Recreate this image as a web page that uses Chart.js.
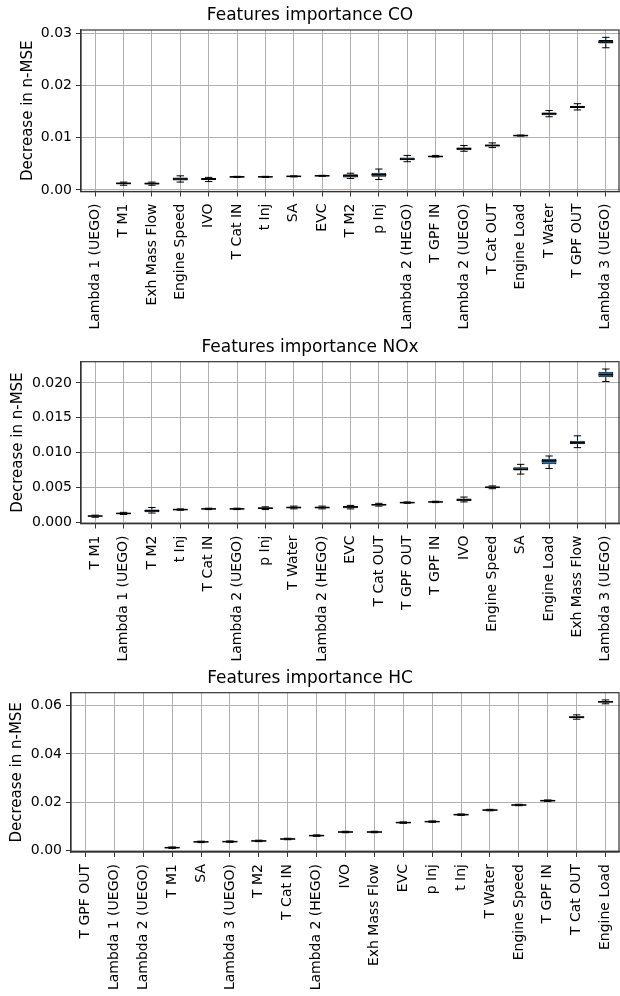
<!DOCTYPE html>
<html>
<head>
<meta charset="utf-8">
<script src="https://cdn.jsdelivr.net/npm/chart.js@4.4.1/dist/chart.umd.min.js"></script>
<style>
body { margin: 0; background: #fff; }
.panel { position: absolute; left: 0; width: 620px; height: 332px; }
</style>
</head>
<body>
<div class="panel" style="top:0px"><canvas id="coChart" width="620" height="332"></canvas></div>
<div class="panel" style="top:332px"><canvas id="noxChart" width="620" height="332"></canvas></div>
<div class="panel" style="top:664px"><canvas id="hcChart" width="620" height="332"></canvas></div>
<script>
// CO
const coLabels = ['Lambda 1 (UEGO)', 'T M1', 'Exh Mass Flow', 'Engine Speed', 'IVO', 'T Cat IN', 't Inj', 'SA', 'EVC', 'T M2', 'p Inj', 'Lambda 2 (HEGO)', 'T GPF IN', 'Lambda 2 (UEGO)', 'T Cat OUT', 'Engine Load', 'T Water', 'T GPF OUT', 'Lambda 3 (UEGO)'];
const coLow  = [null, 0.0009, 0.0009, 0.0015, 0.0016, 0.0024, 0.0024, 0.0025, 0.0026, 0.0022, 0.0020, 0.0054, 0.0063, 0.0074, 0.0081, 0.0103, 0.0140, 0.0153, 0.0272];
const coQ1   = [null, 0.0011, 0.0011, 0.0018, 0.0019, 0.0024, 0.00245, 0.0025, 0.0026, 0.0024, 0.0025, 0.0057, 0.0063, 0.0076, 0.0083, 0.0103, 0.0143, 0.0157, 0.0280];
const coMed  = [null, 0.00125, 0.0012, 0.0021, 0.0021, 0.0025, 0.0025, 0.0026, 0.0027, 0.0027, 0.0029, 0.0059, 0.0064, 0.0079, 0.0085, 0.0104, 0.0146, 0.0159, 0.0283];
const coQ3   = [null, 0.0014, 0.0014, 0.0024, 0.0023, 0.0026, 0.00255, 0.0027, 0.0028, 0.0030, 0.0033, 0.0062, 0.0065, 0.0081, 0.0087, 0.0105, 0.0148, 0.0161, 0.0287];
const coHigh = [null, 0.0015, 0.0015, 0.0027, 0.0024, 0.0026, 0.0026, 0.0027, 0.0028, 0.0032, 0.0040, 0.0066, 0.0066, 0.0085, 0.0090, 0.0105, 0.0152, 0.0165, 0.0292];

// NOx
const noxLabels = ['T M1', 'Lambda 1 (UEGO)', 'T M2', 't Inj', 'T Cat IN', 'Lambda 2 (UEGO)', 'p Inj', 'T Water', 'Lambda 2 (HEGO)', 'EVC', 'T Cat OUT', 'T GPF OUT', 'T GPF IN', 'IVO', 'Engine Speed', 'SA', 'Engine Load', 'Exh Mass Flow', 'Lambda 3 (UEGO)'];
const noxLow  = [0.0007, 0.0011, 0.0013, 0.0017, 0.0018, 0.0018, 0.0018, 0.0019, 0.0019, 0.0019, 0.0023, 0.0027, 0.0028, 0.0029, 0.0048, 0.0069, 0.0077, 0.0107, 0.0202];
const noxQ1   = [0.0008, 0.0012, 0.0014, 0.00175, 0.00185, 0.00185, 0.0019, 0.0020, 0.0020, 0.0020, 0.0024, 0.00275, 0.00285, 0.0030, 0.0049, 0.0074, 0.0083, 0.0112, 0.0208];
const noxMed  = [0.00087, 0.00125, 0.00163, 0.0018, 0.0019, 0.0019, 0.0020, 0.0021, 0.0021, 0.0022, 0.0025, 0.0028, 0.0029, 0.0032, 0.0050, 0.0076, 0.0088, 0.0114, 0.0212];
const noxQ3   = [0.00095, 0.0013, 0.0018, 0.00185, 0.00195, 0.00195, 0.0021, 0.0022, 0.0022, 0.0023, 0.0026, 0.00285, 0.00295, 0.0034, 0.0051, 0.0079, 0.0091, 0.0117, 0.0216];
const noxHigh = [0.0010, 0.0014, 0.0021, 0.0019, 0.0020, 0.0020, 0.0022, 0.0023, 0.0023, 0.0024, 0.0027, 0.0029, 0.0030, 0.0036, 0.0052, 0.0083, 0.0095, 0.0124, 0.0220];

// HC
const hcLabels = ['T GPF OUT', 'Lambda 1 (UEGO)', 'Lambda 2 (UEGO)', 'T M1', 'SA', 'Lambda 3 (UEGO)', 'T M2', 'T Cat IN', 'Lambda 2 (HEGO)', 'IVO', 'Exh Mass Flow', 'EVC', 'p Inj', 't Inj', 'T Water', 'Engine Speed', 'T GPF IN', 'T Cat OUT', 'Engine Load'];
const hcLow  = [null, null, null, 0.0008, 0.0032, 0.0033, 0.0036, 0.0044, 0.0058, 0.0073, 0.0073, 0.0112, 0.0116, 0.0145, 0.0164, 0.0185, 0.0203, 0.0544, 0.0608];
const hcQ1   = [null, null, null, 0.0009, 0.0033, 0.0034, 0.0037, 0.0045, 0.0059, 0.0074, 0.0074, 0.0113, 0.0117, 0.0146, 0.0165, 0.0186, 0.0204, 0.0548, 0.0613];
const hcMed  = [null, null, null, 0.0011, 0.0035, 0.0036, 0.0039, 0.0047, 0.0061, 0.0076, 0.0076, 0.0115, 0.0119, 0.0148, 0.0167, 0.0188, 0.0206, 0.0552, 0.0616];
const hcQ3   = [null, null, null, 0.0013, 0.0037, 0.0038, 0.0041, 0.0049, 0.0063, 0.0078, 0.0078, 0.0117, 0.0121, 0.0150, 0.0169, 0.0190, 0.0208, 0.0556, 0.0619];
const hcHigh = [null, null, null, 0.0014, 0.0038, 0.0039, 0.0042, 0.0050, 0.0064, 0.0079, 0.0079, 0.0118, 0.0122, 0.0151, 0.0170, 0.0191, 0.0209, 0.0562, 0.0624];

Chart.defaults.font.family = 'DejaVu Sans';
Chart.defaults.color = '#000';

// whiskers, caps and medians drawn on top of the floating bars
const whiskerPlugin = {
  id: 'whiskers',
  afterDatasetsDraw(chart) {
    const ctx = chart.ctx;
    const y = chart.scales.y;
    const ds = chart.data.datasets[0];
    const meta = chart.getDatasetMeta(0);
    ctx.save();
    ctx.strokeStyle = '#000';
    meta.data.forEach((bar, i) => {
      if (ds.med[i] == null) return;
      const x = bar.x, half = bar.width / 2;
      ctx.lineWidth = 1;
      ctx.beginPath();
      ctx.moveTo(x, y.getPixelForValue(ds.q1[i]));
      ctx.lineTo(x, y.getPixelForValue(ds.low[i]));
      ctx.moveTo(x, y.getPixelForValue(ds.q3[i]));
      ctx.lineTo(x, y.getPixelForValue(ds.high[i]));
      ctx.moveTo(x - half / 2, y.getPixelForValue(ds.low[i]));
      ctx.lineTo(x + half / 2, y.getPixelForValue(ds.low[i]));
      ctx.moveTo(x - half / 2, y.getPixelForValue(ds.high[i]));
      ctx.lineTo(x + half / 2, y.getPixelForValue(ds.high[i]));
      ctx.stroke();
      ctx.lineWidth = 1.5;
      ctx.beginPath();
      ctx.moveTo(x - half, y.getPixelForValue(ds.med[i]));
      ctx.lineTo(x + half, y.getPixelForValue(ds.med[i]));
      ctx.stroke();
    });
    ctx.restore();
  }
};

// top and right spines
const framePlugin = {
  id: 'frame',
  afterDraw(chart) {
    const {ctx, chartArea: a} = chart;
    ctx.save();
    ctx.strokeStyle = '#333';
    ctx.lineWidth = 1.2;
    ctx.strokeRect(a.left, a.top, a.right - a.left - 1, a.bottom - a.top);
    ctx.restore();
  }
};

function makeChart(id, title, labels, low, q1, med, q3, high, yMin, yMax, step, decimals, layout) {
  const boxes = q1.map((v, i) => v == null ? null : [v, q3[i]]);
  return new Chart(document.getElementById(id), {
    type: 'bar',
    data: {
      labels: labels,
      datasets: [{
        data: boxes,
        low: low, q1: q1, med: med, q3: q3, high: high,
        backgroundColor: '#1f77b4',
        borderColor: '#000',
        borderWidth: 1,
        borderSkipped: false,
        barPercentage: 0.52,
        categoryPercentage: 1
      }]
    },
    options: {
      responsive: false,
      animation: false,
      layout: { padding: 0 },
      plugins: {
        legend: { display: false },
        tooltip: { enabled: false },
        title: {
          display: true,
          text: title,
          font: { size: 17, weight: 'normal' },
          padding: { top: layout.titleTop, bottom: layout.titleBottom }
        }
      },
      scales: {
        x: {
          offset: true,
          grid: { offset: false, color: '#b0b0b0', lineWidth: 1, tickColor: '#333', tickLength: 5 },
          border: { color: '#333', width: 1.2 },
          ticks: { autoSkip: false, minRotation: 90, maxRotation: 90, padding: 7, font: { size: 14 } },
          afterFit: s => { s.height = layout.xHeight; s.paddingLeft = 0; s.paddingRight = 0; }
        },
        y: {
          min: yMin,
          max: yMax,
          grid: { color: '#b0b0b0', lineWidth: 1, tickColor: '#333', tickLength: 5 },
          border: { color: '#333', width: 1.2 },
          ticks: {
            stepSize: step,
            includeBounds: false,
            padding: 4,
            font: { size: 14 },
            callback: v => v.toFixed(decimals)
          },
          title: {
            display: true,
            text: 'Decrease in n-MSE',
            font: { size: 15 },
            padding: { top: layout.yTitlePad, bottom: 0 }
          },
          afterFit: s => { s.width = layout.yWidth; }
        }
      }
    },
    plugins: [whiskerPlugin, framePlugin]
  });
}

makeChart('coChart', 'Features importance CO', coLabels, coLow, coQ1, coMed, coQ3, coHigh,
  -0.0003, 0.0306, 0.01, 2,
  { titleTop: 5.8, titleBottom: 3.8, xHeight: 140.5, yWidth: 81, yTitlePad: 19 });

makeChart('noxChart', 'Features importance NOx', noxLabels, noxLow, noxQ1, noxMed, noxQ3, noxHigh,
  -0.0002, 0.02305, 0.005, 3,
  { titleTop: 5.8, titleBottom: 3.5, xHeight: 140.5, yWidth: 81, yTitlePad: 9 });

makeChart('hcChart', 'Features importance HC', hcLabels, hcLow, hcQ1, hcMed, hcQ3, hcHigh,
  -0.0007, 0.0654, 0.02, 2,
  { titleTop: 4.8, titleBottom: 3.5, xHeight: 144, yWidth: 71, yTitlePad: 8 });
</script>
</body>
</html>
